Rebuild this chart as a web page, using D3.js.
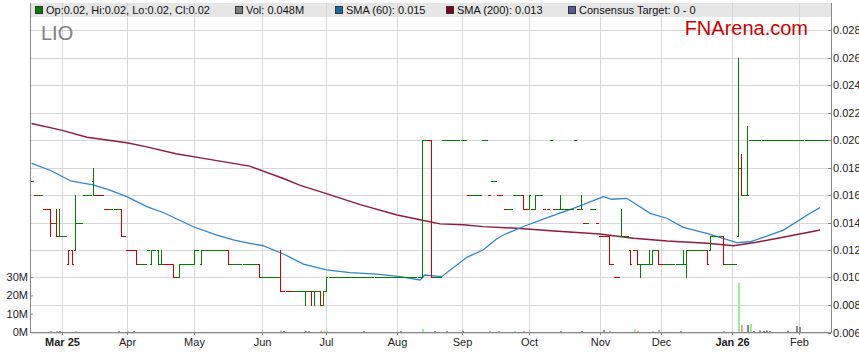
<!DOCTYPE html>
<html><head><meta charset="utf-8">
<script src="https://cdn.jsdelivr.net/npm/d3@7"></script>
<style>
body{margin:0;background:#fff}
svg{display:block;font-family:"Liberation Sans",Arial,sans-serif}
</style>
</head><body>
<svg id="c" width="859" height="363"></svg>
<script>
// ---------- DATA (weekday index 0 = 17 Feb 2025) ----------
const ticker = "LIO";
const monthDay   = [10,31,53,75,96,119,140,162,185,205,228,250];
const monthLabel = ["Mar 25","Apr","May","Jun","Jul","Aug","Sep","Oct","Nov","Dec","Jan 26","Feb"];
const priceTicks = [0.006,0.008,0.010,0.012,0.014,0.016,0.018,0.020,0.022,0.024,0.026,0.028];
const volTicks   = [0,10,20,30];

// daily close, null = no trade
const closePrice = [
/*0*/   .017,.016,.016,.016,.015,.015,.014,.014,.013,.013,
/*10*/  .013,.013,.012,.011,.014,.014,.014,.016,.016,.016,
/*20*/  .016,.016,.016,.016,.015,.015,.015,.015,.015,.013,
/*30*/  .013,.012,.012,.012,.011,.011,.011,.011,.012,.012,
/*40*/  .012,.011,.011,.011,.011,.011,.010,.010,.011,.011,
/*50*/  .011,.011,.011,.012,.012,.012,.012,.012,.012,.012,
/*60*/  .012,.012,.012,.012,.011,.011,.011,.011,.011,.011,
/*70*/  .011,.011,.011,.011,.010,.010,.010,.010,.010,.010,
/*80*/  .010,.009,.009,.009,.009,.009,.009,.009,.009,.009,
/*90*/  .009,.009,.009,.009,.008,.009,.010,.010,.010,.010,
/*100*/ .010,.010,.010,.010,.010,.010,.010,.010,.010,.010,
/*110*/ .010,.010,.010,.010,.010,.010,.010,.010,.010,.010,
/*120*/ .010,.010,.010,.010,.010,.010,.010,.020,.020,.020,
/*130*/ .010,.010,.010,.010,.020,.020,.020,.020,.020,.020,
/*140*/ .020,.020,.016,.016,.016,.016,.016,.020,.020,.016,
/*150*/ .017,.017,.016,.016,.015,.015,.015,.016,.016,.016,
/*160*/ .015,.015,.016,.015,.016,.016,.016,.015,.015,.020,
/*170*/ .015,.015,.015,.015,.015,.015,.015,.020,.015,.015,
/*180*/ .014,.014,.015,.015,.014,.013,.013,.013,.011,.011,
/*190*/ .010,.010,.013,.013,.013,.011,.012,.011,.011,.011,
/*200*/ .011,.011,.012,.012,.011,.011,.011,.011,.011,.011,
/*210*/ .011,.011,.011,.012,.012,.012,.012,.012,.012,.012,
/*220*/ .011,.013,.013,.013,.013,.011,.011,.011,.011,.011,
/*230*/ .018,.016,.016,.016,.020,.020,.020,.020,.020,.020,
/*240*/ .020,.020,.020,.020,.020,.020,.020,.020,.020,.020,
/*250*/ .020,.020,.020,.020,.020,.020,.020,.020,.020,.020
];
// days whose open/high/low differ from the close
const rangeDay  = [6,8,9,12,13,14,20,29,34,39,41,42,46,48,53,55,64,74,81,89,91,92,94,95,96,127,130,160,162,164,172,179,188,192,195,197,198,201,202,204,212,213,220,221,225,230,231,233];
const rangeOpen = [.015,.014,.013,.011,.012,.012,.017,.015,.012,.011,.012,.011,.011,.010,.011,.011,.012,.011,.010,.009,.009,.009,.009,.008,.009,.010,.020,.016,.015,.015,.015,.015,.013,.013,.012,.012,.011,.011,.011,.012,.011,.011,.012,.012,.013,.013,.018,.016];
const rangeHigh = [.015,.015,.015,.012,.012,.016,.018,.015,.012,.012,.012,.012,.011,.011,.012,.012,.012,.011,.012,.009,.009,.009,.009,.009,.010,.020,.020,.016,.016,.016,.016,.016,.013,.015,.012,.012,.011,.012,.012,.012,.012,.012,.012,.013,.013,.026,.019,.021];
const rangeLow  = [.013,.013,.013,.011,.011,.012,.016,.013,.011,.011,.011,.011,.010,.010,.011,.011,.011,.010,.009,.008,.008,.008,.008,.008,.009,.010,.010,.015,.015,.015,.015,.015,.011,.013,.011,.011,.010,.011,.011,.011,.011,.010,.011,.012,.011,.013,.016,.016];
// days drawn as falling (red)
const downDay = [1,4,5,6,8,12,13,21,22,23,24,25,29,30,31,32,33,34,43,44,45,46,47,64,74,81,82,83,84,91,94,129,130,142,149,152,153,154,160,161,163,167,168,170,178,180,184,185,186,187,188,189,190,191,195,197,204,205,220,225,231];
// volume (millions)
const volDay   = [6,8,9,14,28,31,33,81,82,89,90,94,95,96,108,120,127,131,135,140,149,152,157,160,172,179,186,188,196,197,202,204,211,225,230,231,233,234,235,237,238,239,240,246,249,250,259];
const volValue = [.6,.6,.5,.6,.5,.6,.5,.8,.6,.5,.5,.6,.6,.6,.5,.5,1.6,.5,.5,.5,.6,.6,.6,.6,.5,.5,1.1,.6,1.3,.6,.6,1.1,.5,.6,26.9,3.8,3.8,4.4,.6,.8,.6,.8,.6,.8,3.3,2.8,.048];
// moving averages
const sma60Day = [0,6,13,20,25.5,31,37.5,43,52.7,60.3,65.7,71,75.4,82,88.5,96,103.7,112.4,120,126.5,128,133.5,141.7,147,151.4,153.6,160,168.8,176.4,186.2,188.9,193.8,201.4,206.8,212.2,219.8,229.6,233.9,238.3,244.8,253.5,256.7];
const sma60Val = [.0183,.0178,.0170,.01673,.01636,.01588,.01515,.01471,.01369,.01309,.01273,.01249,.01231,.01171,.01098,.01055,.01035,.01025,.01006,.00982,.01018,.01006,.01147,.0120,.0128,.01309,.01369,.01442,.01503,.01588,.01569,.01576,.01467,.01431,.01365,.01321,.01253,.0126,.01292,.01345,.01467,.01508];
const sma200Day = [0,10,18,31,37.5,47,55,71,82,87.5,96,107,119,126.5,133,140.5,147,158,169,185,196,207,220,228.5,236,253.5,256.7];
const sma200Val = [.0212,.0207,.0202,.0198,.0195,.0190,.0187,.0181,.0172,.0167,.0161,.0153,.01455,.0142,.0139,.01384,.0137,.01358,.0134,.01316,.01285,.01265,.01249,.01231,.01256,.01331,.01345];

// ---------- CHART ----------
const svg = d3.select("#c");
const L = 31, R = 831, T = 3, B = 332;
const x  = d3.scaleLinear().domain([0,260]).rangeRound([31.6,830.1]);
const y  = d3.scaleLinear().domain([0.006,0.028]).rangeRound([332.5,30]);
const yv = d3.scaleLinear().domain([0,30]).range([332,277]);
const GREEN="#008000", RED="#d00000";

// legend band
svg.append("rect").attr("x",L).attr("y",T).attr("width",R-L).attr("height",14).attr("fill","#e6e6e6");

// grid
const grid = svg.append("g").attr("stroke","#d8d8d8").attr("shape-rendering","crispEdges");
grid.selectAll(".h").data(priceTicks).join("line").attr("class","h")
  .attr("x1",L).attr("x2",R).attr("y1",d=>y(d)+0.5).attr("y2",d=>y(d)+0.5);
grid.selectAll(".v").data(monthDay).join("line").attr("class","v")
  .attr("x1",d=>x(d)+0.5).attr("x2",d=>x(d)+0.5).attr("y1",T).attr("y2",B);

// bars data
const bars = [];
let prev = null;
closePrice.forEach((c,i)=>{
  if (c==null) return;
  const k = rangeDay.indexOf(i);
  const b = {i, c, o: k>=0?rangeOpen[k]:c, h: k>=0?rangeHigh[k]:c, l: k>=0?rangeLow[k]:c,
             down: downDay.includes(i), prev};
  bars.push(b); prev = c;
});
const barByDay = new Map(bars.map(b=>[b.i,b]));

// volume
const vols = volDay.map((d,k)=>{
  const b = barByDay.get(d);
  let col = "#8a8a8a";
  if (b && b.prev!=null && b.c>b.prev) col="#9af09a";
  else if (b && b.prev!=null && b.c<b.prev) col="#f4a0a0";
  return {d, v: volValue[k], col};
});
svg.append("g").selectAll("rect").data(vols).join("rect")
  .attr("x",d=>x(d.d)).attr("width",2)
  .attr("y",d=>yv(d.v)).attr("height",d=>yv(0)-yv(d.v))
  .attr("fill",d=>d.col);

// moving averages
const line = d3.line().x(d=>x.copy().interpolate(d3.interpolateNumber)(d[0])).y(d=>y.copy().interpolate(d3.interpolateNumber)(d[1]));
svg.append("path").datum(sma200Day.map((d,k)=>[d,sma200Val[k]]))
  .attr("d",line).attr("fill","none").attr("stroke","#8c1c40").attr("stroke-width",1.5);
svg.append("path").datum(sma60Day.map((d,k)=>[d,sma60Val[k]]))
  .attr("d",line).attr("fill","none").attr("stroke","#2f86c8").attr("stroke-width",1.3);

// OHLC bars
const g = svg.append("g").attr("shape-rendering","crispEdges").attr("stroke-width",1);
bars.forEach(b=>{
  const cx = x(b.i), col = b.down?RED:GREEN;
  if (b.h>b.l) g.append("line").attr("x1",cx+0.5).attr("x2",cx+0.5)
      .attr("y1",y(b.h)).attr("y2",y(b.l)+1).attr("stroke",col);
  g.append("line").attr("x1",cx-1).attr("x2",cx+1).attr("y1",y(b.o)+0.5).attr("y2",y(b.o)+0.5).attr("stroke",col);
  g.append("line").attr("x1",cx).attr("x2",cx+2).attr("y1",y(b.c)+0.5).attr("y2",y(b.c)+0.5).attr("stroke",col);
});

// frame lines
const frame = svg.append("g").attr("stroke","#888").attr("shape-rendering","crispEdges");
frame.append("line").attr("x1",L-0.5).attr("x2",L-0.5).attr("y1",T).attr("y2",B+1);
frame.append("line").attr("x1",R+0.5).attr("x2",R+0.5).attr("y1",T).attr("y2",B+1);

// bottom axis
const ax = svg.append("g").attr("transform",`translate(0,${B})`)
  .call(d3.axisBottom(x).tickValues(monthDay).tickFormat((d,k)=>monthLabel[k]).tickSizeInner(3).tickSizeOuter(0).tickPadding(3));
ax.select(".domain").attr("stroke","#888").attr("d",`M${L-1},0.5H${R+1}`);
ax.selectAll(".tick line").attr("stroke","#888");
ax.selectAll("text").attr("font-size",11).attr("font-family","Liberation Sans, Arial, sans-serif").attr("fill","#222")
  .attr("font-weight",d=>/\d/.test(monthLabel[monthDay.indexOf(d)])?"bold":"normal");

// right price axis
const ay = svg.append("g").attr("transform",`translate(${R},0)`)
  .call(d3.axisRight(y).tickValues(priceTicks).tickFormat(d3.format(".3f")).tickSizeInner(-3).tickSizeOuter(0).tickPadding(2));
ay.select(".domain").remove();
ay.selectAll(".tick line").attr("stroke","#888");
ay.selectAll("text").attr("font-size",11).attr("font-family","Liberation Sans, Arial, sans-serif").attr("fill","#222");

// left volume axis
const av = svg.append("g").attr("transform",`translate(${L-1},0)`)
  .call(d3.axisLeft(yv).tickValues(volTicks).tickFormat(d=>d+"M").tickSizeInner(-3).tickSizeOuter(0).tickPadding(2));
av.select(".domain").remove();
av.selectAll(".tick line").attr("stroke","#888");
av.selectAll("text").attr("font-size",11).attr("font-family","Liberation Sans, Arial, sans-serif").attr("fill","#222");

// titles
svg.append("text").attr("x",41).attr("y",40).attr("font-size",20).attr("fill","#808080").text(ticker);
svg.append("text").attr("x",808).attr("y",35).attr("text-anchor","end").attr("font-size",20).attr("fill","#cc0000").text("FNArena.com");

// legend
const last = bars[bars.length-1];
const f2 = d3.format(".2f"), f3 = d3.format(".3f");
const legend = [
  {col:"#008000", x:35,  t:`Op:${f2(last.o)}, Hi:${f2(last.h)}, Lo:${f2(last.l)}, Cl:${f2(last.c)}`},
  {col:"#808080", x:235, t:`Vol: ${volValue[volValue.length-1]}M`},
  {col:"#1a6aa8", x:335, t:`SMA (60): ${f3(sma60Val[sma60Val.length-1])}`},
  {col:"#800020", x:446, t:`SMA (200): ${f3(sma200Val[sma200Val.length-1])}`},
  {col:"#5a5a96", x:568, t:"Consensus Target: 0 - 0"}
];
const lg = svg.append("g");
legend.forEach(it=>{
  lg.append("rect").attr("x",it.x+0.5).attr("y",6.5).attr("width",7).attr("height",7)
    .attr("fill",it.col).attr("stroke","#333").attr("stroke-width",1).attr("shape-rendering","crispEdges");
  lg.append("text").attr("x",it.x+11).attr("y",14).attr("font-size",11).attr("fill","#111").text(it.t);
});
</script>
</body></html>
